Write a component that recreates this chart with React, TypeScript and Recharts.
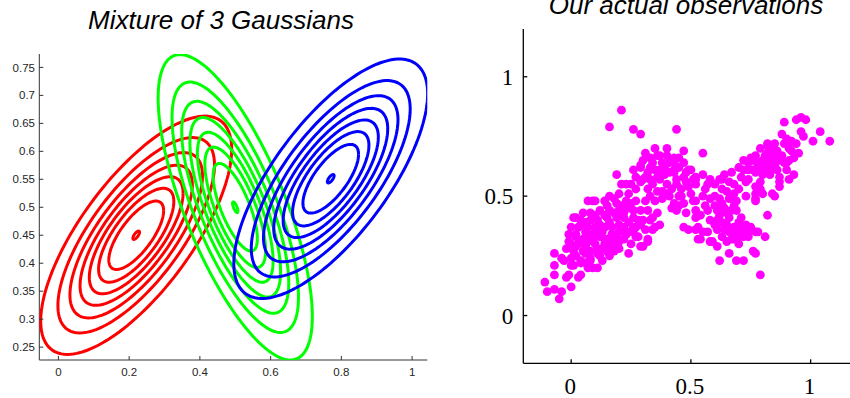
import React from 'react';
import { ScatterChart, Scatter, XAxis, YAxis } from 'recharts';

// Gaussian components: mean, half-extent (x, y) of the outermost contour, correlation
const COMPONENT_COLORS = ['#ff0000', '#00ff00', '#0000ff'];
const COMPONENT_MEANS: [number, number][] = [[0.22, 0.45], [0.5, 0.5], [0.77, 0.551]];
const COMPONENT_SPREADS: [number, number][] = [[0.27, 0.213], [0.218, 0.273], [0.274, 0.214]];
const COMPONENT_RHO = [0.72, -0.715, 0.71];
// relative size of each contour level (outermost = 1)
const RING_SCALES = [1, 0.82, 0.694, 0.588, 0.491, 0.394, 0.287, 0.035];

const LEFT_X_TICKS = [0, 0.2, 0.4, 0.6, 0.8, 1];
const LEFT_Y_TICKS = [0.25, 0.3, 0.35, 0.4, 0.45, 0.5, 0.55, 0.6, 0.65, 0.7, 0.75];
const RIGHT_TICKS = [0, 0.5, 1];

const OBSERVATIONS: [number, number][] = [
  [-0.11, 0.14], [-0.1, 0.1], [-0.07, 0.11], [-0.05, 0.07], [-0.04, 0.1], [-0.07, 0.17], [-0.07, 0.21], [-0.07, 0.26],
  [-0.03, 0.23], [-0.02, 0.16], [-0.01, 0.17], [0.0, 0.12], [0.0, 0.21], [-0.02, 0.28], [-0.01, 0.34], [0.0, 0.37],
  [0.01, 0.41], [0.02, 0.33], [0.03, 0.16], [0.04, 0.22], [0.07, 0.2], [0.09, 0.2], [0.11, 0.2], [0.06, 0.26],
  [0.08, 0.23], [0.13, 0.23], [0.16, 0.26], [0.2, 0.28], [0.24, 0.26], [0.29, 0.29], [0.32, 0.31], [0.34, 0.36],
  [0.37, 0.38], [0.28, 0.33], [0.45, 0.46], [0.47, 0.37], [0.49, 0.36], [0.54, 0.32], [0.58, 0.31], [0.61, 0.29],
  [0.62, 0.23], [0.66, 0.26], [0.69, 0.23], [0.72, 0.23], [0.7, 0.3], [0.72, 0.33], [0.68, 0.32], [0.76, 0.27],
  [0.77, 0.35], [0.81, 0.33], [0.82, 0.42], [0.79, 0.17], [0.74, 0.35], [0.66, 0.35], [0.57, 0.35], [0.52, 0.36],
  [0.61, 0.4], [0.65, 0.43], [0.69, 0.44], [0.71, 0.41], [0.77, 0.48],
  [0.89, 0.81], [0.94, 0.82], [0.96, 0.83], [0.98, 0.82], [0.96, 0.77], [0.97, 0.75], [1.04, 0.77], [1.08, 0.73],
  [1.01, 0.73], [0.92, 0.73], [0.88, 0.76], [0.89, 0.72], [0.85, 0.72], [0.82, 0.72], [0.79, 0.7], [0.84, 0.69],
  [0.91, 0.7], [0.95, 0.68], [0.85, 0.67], [0.81, 0.67], [0.77, 0.67], [0.76, 0.65], [0.79, 0.64], [0.84, 0.66],
  [0.91, 0.65], [0.89, 0.64], [0.83, 0.63], [0.81, 0.62], [0.86, 0.61], [0.9, 0.61], [0.83, 0.59], [0.93, 0.59],
  [0.91, 0.57], [0.87, 0.56], [0.87, 0.54], [0.55, 0.68], [0.7, 0.62], [0.72, 0.61], [0.76, 0.61], [0.79, 0.61],
  [0.74, 0.57], [0.73, 0.56], [0.79, 0.56], [0.77, 0.54], [0.8, 0.51], [0.85, 0.5], [0.77, 0.49], [0.73, 0.5],
  [0.7, 0.53], [0.66, 0.56], [0.63, 0.57], [0.63, 0.53], [0.58, 0.57], [0.55, 0.59], [0.52, 0.57], [0.49, 0.61],
  [0.58, 0.49], [0.52, 0.48], [0.56, 0.53], [0.68, 0.46], [0.63, 0.47], [0.61, 0.44], [0.56, 0.46], [0.54, 0.42],
  [0.58, 0.4], [0.53, 0.37], [0.55, 0.35], [0.62, 0.39], [0.66, 0.41], [0.64, 0.36], [0.61, 0.36], [0.73, 0.38],
  [0.75, 0.37], [0.68, 0.37], [0.69, 0.34], [0.74, 0.33], [0.78, 0.35], [0.67, 0.32], [0.59, 0.31], [0.77, 0.26],
  [0.21, 0.86], [0.16, 0.79], [0.26, 0.78], [0.29, 0.76], [0.44, 0.78], [0.35, 0.7], [0.4, 0.7], [0.31, 0.68],
  [0.37, 0.67], [0.47, 0.69], [0.43, 0.66], [0.45, 0.66], [0.29, 0.63], [0.34, 0.64], [0.41, 0.64], [0.32, 0.6],
  [0.37, 0.61], [0.43, 0.61], [0.19, 0.59], [0.21, 0.55], [0.29, 0.56], [0.23, 0.55], [0.27, 0.53], [0.2, 0.51],
  [0.16, 0.5], [0.48, 0.6], [0.51, 0.57], [0.62, 0.57], [0.74, 0.61], [0.82, 0.64], [0.75, 0.66], [0.82, 0.71],
  [0.92, 0.69], [0.9, 0.64], [0.83, 0.6], [0.87, 0.58], [0.68, 0.51], [0.79, 0.53], [0.84, 0.51], [0.77, 0.51],
  [0.36, 0.67], [0.3, 0.65], [0.38, 0.64], [0.43, 0.64], [0.29, 0.62], [0.33, 0.62], [0.41, 0.6], [0.43, 0.6],
  [0.5, 0.61], [0.52, 0.58], [0.47, 0.58], [0.44, 0.57], [0.48, 0.56], [0.52, 0.55], [0.3, 0.57], [0.33, 0.57],
  [0.37, 0.57], [0.4, 0.55], [0.24, 0.51], [0.32, 0.53], [0.36, 0.52], [0.4, 0.51], [0.41, 0.5], [0.45, 0.5],
  [0.5, 0.51], [0.43, 0.47], [0.47, 0.47], [0.51, 0.48], [0.44, 0.44], [0.48, 0.43], [0.52, 0.44], [0.52, 0.41],
  [0.53, 0.32], [0.07, 0.48], [0.1, 0.48], [0.15, 0.46], [0.19, 0.47], [0.23, 0.48], [0.27, 0.48], [0.31, 0.48],
  [0.29, 0.44], [0.32, 0.44], [0.24, 0.45], [0.2, 0.44], [0.16, 0.44], [0.12, 0.44], [0.08, 0.43], [0.02, 0.41],
  [0.04, 0.4], [0.08, 0.4], [0.11, 0.4], [0.15, 0.41], [0.19, 0.41], [0.22, 0.41], [0.26, 0.41], [0.3, 0.4],
  [0.03, 0.37], [0.07, 0.37], [0.1, 0.37], [0.14, 0.37], [0.17, 0.37], [0.22, 0.37], [0.26, 0.37], [0.29, 0.38],
  [0.35, 0.37], [0.02, 0.34], [0.06, 0.35], [0.09, 0.34], [0.13, 0.35], [0.17, 0.34], [0.2, 0.35], [0.24, 0.35],
  [0.27, 0.33], [0.0, 0.3], [0.03, 0.3], [0.07, 0.31], [0.1, 0.3], [0.14, 0.3], [0.17, 0.31], [0.22, 0.32],
  [0.32, 0.32], [0.3, 0.29], [0.01, 0.27], [0.05, 0.27], [0.08, 0.27], [0.13, 0.28], [0.16, 0.28], [0.19, 0.29],
  [-0.04, 0.24], [0.0, 0.24], [0.04, 0.23], [0.08, 0.24], [0.12, 0.25], [0.16, 0.25], [0.01, 0.21], [0.06, 0.22],
  [0.04, 0.17], [0.09, 0.48],
  // denser cores
  [0.05, 0.32], [0.09, 0.32], [0.12, 0.33], [0.15, 0.32], [0.19, 0.33], [0.23, 0.34], [0.26, 0.35], [0.04, 0.38],
  [0.06, 0.39], [0.12, 0.38], [0.16, 0.39], [0.2, 0.38], [0.24, 0.39], [0.28, 0.4], [0.05, 0.43], [0.1, 0.42],
  [0.14, 0.42], [0.18, 0.43], [0.22, 0.43], [0.26, 0.44], [0.14, 0.48], [0.18, 0.49], [0.21, 0.46], [0.25, 0.47],
  [0.02, 0.29], [0.06, 0.29], [0.11, 0.28], [0.15, 0.27], [0.18, 0.27], [0.11, 0.26], [0.02, 0.25], [0.14, 0.32],
  [0.2, 0.31], [0.25, 0.3], [0.27, 0.37], [0.33, 0.4], [0.31, 0.36], [0.34, 0.41], [0.36, 0.43], [-0.01, 0.31],
  [0.06, 0.33], [0.1, 0.35],
  [0.33, 0.5], [0.35, 0.48], [0.38, 0.49], [0.34, 0.55], [0.36, 0.58], [0.39, 0.59], [0.42, 0.53], [0.44, 0.55],
  [0.46, 0.53], [0.38, 0.52], [0.31, 0.58], [0.35, 0.61], [0.39, 0.62], [0.45, 0.62], [0.47, 0.64], [0.4, 0.67],
  [0.33, 0.66], [0.27, 0.58], [0.25, 0.55], [0.26, 0.61], [0.49, 0.54], [0.46, 0.5], [0.42, 0.45],
  [0.57, 0.44], [0.6, 0.46], [0.62, 0.42], [0.64, 0.45], [0.67, 0.44], [0.6, 0.38], [0.63, 0.39], [0.65, 0.38],
  [0.7, 0.39], [0.71, 0.36], [0.63, 0.33], [0.65, 0.31], [0.7, 0.33], [0.6, 0.5], [0.62, 0.49], [0.66, 0.49],
  [0.69, 0.48], [0.55, 0.5], [0.57, 0.55], [0.6, 0.55], [0.65, 0.52], [0.68, 0.55], [0.71, 0.58], [0.67, 0.6],
  [0.64, 0.59],
  [0.78, 0.63], [0.8, 0.65], [0.82, 0.68], [0.86, 0.69], [0.87, 0.65], [0.8, 0.59], [0.85, 0.63], [0.88, 0.67],
  [0.93, 0.66], [0.9, 0.74], [0.94, 0.72], [0.77, 0.6], [0.74, 0.64], [0.72, 0.65],
];

const SEGMENTS = 140;

// one contour ellipse of a component, scaled by s
const ring = (mean: [number, number], spread: [number, number], rho: number, s: number) => {
  const q = Math.sqrt(1 - rho * rho);
  const pts = [];
  for (let i = 0; i <= SEGMENTS; i++) {
    const t = (i / SEGMENTS) * Math.PI * 2;
    const u = Math.cos(t);
    const v = Math.sin(t);
    pts.push({ x: mean[0] + s * spread[0] * u, y: mean[1] + s * spread[1] * (rho * u + q * v) });
  }
  return pts;
};

const contours = COMPONENT_COLORS.flatMap((color, c) =>
  RING_SCALES.map((s, k) => ({
    key: `${c}-${k}`,
    color,
    data: ring(COMPONENT_MEANS[c], COMPONENT_SPREADS[c], COMPONENT_RHO[c], s),
  }))
);

const obsData = OBSERVATIONS.map(([x, y]) => ({ x, y }));

const NoDot = () => <g />;
const MagentaDot = (props: any) => <circle cx={props.cx} cy={props.cy} r={4.4} fill="#ff00ff" />;

const sans = '"Liberation Sans", Arial, Helvetica, sans-serif';
const serif = '"Liberation Serif", "Times New Roman", serif';

// left panel ticks point inward
const LeftXTick = (props: any) => {
  const { x, y, payload } = props;
  return (
    <g>
      <line x1={x} y1={y} x2={x} y2={y - 4} stroke="#333" strokeWidth={1} />
      <text x={x} y={y + 15.8} textAnchor="middle" fontSize={11.5} fontFamily={sans} fill="#262626">
        {String(payload.value)}
      </text>
    </g>
  );
};

const LeftYTick = (props: any) => {
  const { x, y, payload } = props;
  return (
    <g>
      <line x1={x} y1={y} x2={x + 4} y2={y} stroke="#333" strokeWidth={1} />
      <text x={x - 4.3} y={y + 4.1} textAnchor="end" fontSize={11.5} fontFamily={sans} fill="#262626">
        {String(payload.value)}
      </text>
    </g>
  );
};

const RightXTick = (props: any) => {
  const { x, y, payload } = props;
  return (
    <g>
      <line x1={x} y1={y} x2={x} y2={y - 4} stroke="#000" strokeWidth={1.3} />
      <text x={x - 1} y={y + 30.3} textAnchor="middle" fontSize={23} fontFamily={serif} fill="#000">
        {String(payload.value)}
      </text>
    </g>
  );
};

const RightTopTick = (props: any) => {
  const { x, y } = props;
  return <line x1={x} y1={y} x2={x} y2={y + 4} stroke="#000" strokeWidth={1.3} />;
};

const RightYTick = (props: any) => {
  const { x, y, payload } = props;
  return (
    <g>
      <line x1={x} y1={y} x2={x + 4} y2={y} stroke="#000" strokeWidth={1.3} />
      <text x={x - 10} y={y + 8} textAnchor="end" fontSize={23} fontFamily={serif} fill="#000">
        {String(payload.value)}
      </text>
    </g>
  );
};

export default function App() {
  return (
    <div
      style={{
        position: 'absolute',
        left: 0,
        top: 0,
        width: 850,
        height: 398,
        overflow: 'hidden',
        background: '#fff',
      }}
    >
      <div style={{ position: 'absolute', left: 0, top: 0 }}>
        <ScatterChart width={440} height={398} margin={{ top: 54, right: 12.7, bottom: 8, left: 4 }}>
          <XAxis
            type="number"
            dataKey="x"
            domain={[-0.054, 1.043]}
            ticks={LEFT_X_TICKS}
            interval={0}
            allowDataOverflow
            height={30}
            tickSize={0}
            tickMargin={0}
            tickLine={false}
            axisLine={{ stroke: '#333', strokeWidth: 1 }}
            tick={<LeftXTick />}
          />
          <YAxis
            type="number"
            dataKey="y"
            domain={[0.227, 0.774]}
            ticks={LEFT_Y_TICKS}
            interval={0}
            allowDataOverflow
            width={35.3}
            tickSize={0}
            tickMargin={0}
            tickLine={false}
            axisLine={{ stroke: '#333', strokeWidth: 1 }}
            tick={<LeftYTick />}
          />
          {contours.map((c) => (
            <Scatter
              key={c.key}
              data={c.data}
              fill={c.color}
              line={{ stroke: c.color, strokeWidth: 3 }}
              shape={<NoDot />}
              isAnimationActive={false}
            />
          ))}
        </ScatterChart>
      </div>

      <div style={{ position: 'absolute', left: 440, top: 0 }}>
        <ScatterChart width={420} height={398} margin={{ top: 29, right: 1.5, bottom: 4.7, left: 43.3 }}>
          <XAxis
            xAxisId="bottom"
            type="number"
            dataKey="x"
            domain={[-0.2, 1.2]}
            ticks={RIGHT_TICKS}
            interval={0}
            allowDataOverflow
            height={30}
            tickSize={0}
            tickMargin={0}
            tickLine={false}
            axisLine={{ stroke: '#000', strokeWidth: 1.3 }}
            tick={<RightXTick />}
          />
          <XAxis
            xAxisId="top"
            orientation="top"
            type="number"
            dataKey="x"
            domain={[-0.2, 1.2]}
            ticks={RIGHT_TICKS}
            interval={0}
            allowDataOverflow
            height={0}
            tickSize={0}
            tickMargin={0}
            tickLine={false}
            axisLine={{ stroke: '#000', strokeWidth: 1.3 }}
            tick={<RightTopTick />}
          />
          <YAxis
            type="number"
            dataKey="y"
            domain={[-0.2, 1.2]}
            ticks={RIGHT_TICKS}
            interval={0}
            allowDataOverflow
            width={40}
            tickSize={0}
            tickMargin={0}
            tickLine={false}
            axisLine={{ stroke: '#000', strokeWidth: 1.3 }}
            tick={<RightYTick />}
          />
          <Scatter xAxisId="bottom" data={obsData} shape={<MagentaDot />} isAnimationActive={false} />
        </ScatterChart>
      </div>

      <svg width={850} height={398} style={{ position: 'absolute', left: 0, top: 0, pointerEvents: 'none' }}>
        <text x={221} y={29.3} textAnchor="middle" fontSize={26} fontStyle="italic" fontFamily={sans} fill="#000">
          Mixture of 3 Gaussians
        </text>
        <text x={686} y={14} textAnchor="middle" fontSize={26} fontStyle="italic" fontFamily={sans} fill="#000">
          Our actual observations
        </text>
      </svg>
    </div>
  );
}
